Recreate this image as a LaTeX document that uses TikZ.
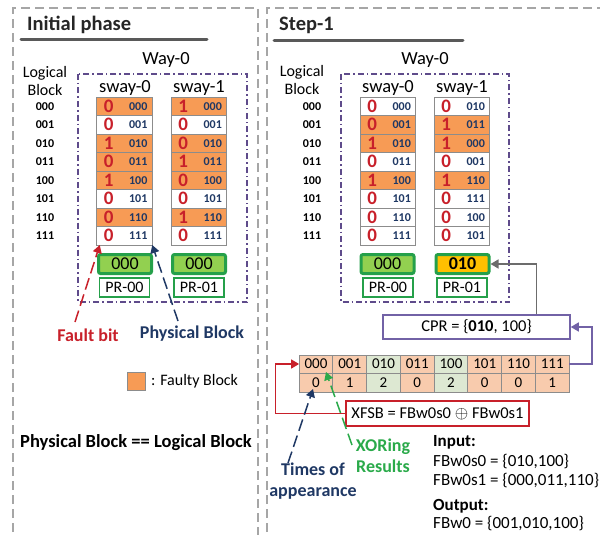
\documentclass[tikz,border=0pt]{standalone}
\usepackage{fontspec}
\setmainfont{Carlito}
\usetikzlibrary{arrows.meta,calc}
\definecolor{orng}{HTML}{F79B55}
\definecolor{redc}{HTML}{C8202A}
\definecolor{navy}{HTML}{1F3864}
\definecolor{grnB}{HTML}{25A04A}
\definecolor{grnF}{HTML}{92D050}
\definecolor{yel}{HTML}{FFC000}
\definecolor{purp}{HTML}{5F4B8B}
\definecolor{purl}{HTML}{7262A6}
\definecolor{pgray}{HTML}{A6A6A6}
\definecolor{ugray}{HTML}{595959}
\definecolor{peach}{HTML}{F8CBAD}
\definecolor{lgrn}{HTML}{DDE8D2}
\definecolor{tgray}{HTML}{8C8C8C}
\definecolor{xgrn}{HTML}{2AAA4A}
\newcommand\colcells[3]{\foreach \b/\a/\f [count=\i from 0] in {#3}{%
  \node[cell,fill=\f] (#1\i) at (#2,{106.25+18.5*\i}) {};
  \node[bitt] (#1b\i) at ([xshift=12pt]#1\i.center -| #1\i.west) {\b};
  \node[adrt] (#1a\i) at ([xshift=-14pt]#1\i.center -| #1\i.east) {\a};}}
\begin{document}
\begin{tikzpicture}[x=1pt,y=-1pt,
  panel/.style={draw=pgray,line width=1.5pt,dash pattern=on 9pt off 5pt},
  wayrect/.style={draw=purp,line width=1.5pt,dash pattern=on 6pt off 3pt on 1.5pt off 3pt},
  title/.style={font=\fontsize{20.5}{23}\selectfont\bfseries,text=black!85,anchor=west,inner sep=0},
  uline/.style={draw=ugray,line width=3pt,line cap=round},
  lbl/.style={font=\fontsize{18.5}{20}\selectfont,inner sep=0},
  logl/.style={font=\fontsize{16}{18}\selectfont,align=center,inner sep=0},
  rowl/.style={font=\fontsize{12}{14}\selectfont\bfseries,inner sep=0},
  cell/.style={draw=tgray,line width=0.8pt,minimum width=55.5pt,minimum height=18.5pt,inner sep=0,outer sep=0},
  bitt/.style={font=\fontsize{19}{20}\selectfont\bfseries,text=redc,inner sep=0},
  adrt/.style={font=\fontsize{12}{14}\selectfont\bfseries,text=navy,inner sep=0},
  gbox/.style={draw=grnB,line width=3pt,rounded corners=2pt,minimum width=53pt,minimum height=19pt,inner sep=0,font=\fontsize{18}{20}\selectfont},
  prbox/.style={draw=grnB,line width=1.5pt,fill=white,minimum width=50pt,minimum height=19pt,inner sep=0,font=\fontsize{16}{18}\selectfont},
  tcell/.style={draw=tgray,line width=0.8pt,minimum width=33.75pt,inner sep=0,outer sep=0,font=\fontsize{15}{17}\selectfont},
  tip/.style={-{Triangle[length=8pt,width=9pt]}},
  bold18/.style={font=\fontsize{18}{21}\selectfont\bfseries,inner sep=0,align=center},
  txt16/.style={font=\fontsize{16}{18}\selectfont,inner sep=0,anchor=west},
  txt17/.style={font=\fontsize{17}{19}\selectfont,inner sep=0,anchor=west}]
\useasboundingbox (0,0) rectangle (600,535);
\clip (0,0) rectangle (600,535);
% panels
\draw[panel] (13,560) -- (13,8) -- (258,8) -- (258,560);
\draw[panel] (267,560) -- (267,8) -- (620,8);
% titles
\node[title] (t1) at (27,25) {Initial phase};
\draw[uline] (21,40) -- (207,40);
\node[title] (t2) at (279,25) {Step-1};
\draw[uline] (274,41) -- (463,41);
% way rects
\draw[wayrect] (78,74) rectangle (247,302);
\draw[wayrect] (341,74) rectangle (509,302);
\node[lbl] (w1) at (166,60) {Way-0};
\node[lbl] (w2) at (425,60) {Way-0};
\node[lbl] (s10) at (125,88) {sway-0};
\node[lbl] (s11) at (199,88) {sway-1};
\node[lbl] (s20) at (388,88) {sway-0};
\node[lbl] (s21) at (462,88) {sway-1};
\node[logl] (lb1) at (45,81) {Logical\\Block};
\node[logl] (lb2) at (302,80) {Logical\\Block};
\foreach \a [count=\i from 0] in {000,001,010,011,100,101,110,111}{
  \node[rowl] (lr\i) at (45,{106.25+18.5*\i}) {\a};
  \node[rowl] (rr\i) at (312,{106.25+18.5*\i}) {\a};}
% columns
\colcells{La}{124.5}{0/000/orng,0/001/white,1/010/orng,0/011/orng,1/100/orng,0/101/white,0/110/orng,0/111/white}
\colcells{Lb}{199}{1/000/orng,0/001/white,0/010/orng,1/011/orng,0/100/orng,0/101/white,1/110/orng,0/111/white}
\colcells{Ra}{388}{0/000/white,0/001/orng,1/010/orng,0/011/white,1/100/orng,0/101/white,0/110/white,0/111/white}
\colcells{Rb}{462}{0/010/white,1/011/orng,1/000/orng,0/001/white,1/110/orng,0/111/white,0/100/white,0/101/white}
% green boxes
\node[gbox,fill=grnF] (Lg0) at (125,264) {000};
\node[gbox,fill=grnF] (Lg1) at (199,264) {000};
\node[gbox,fill=grnF] (Rg0) at (387.5,264) {000};
\node[gbox,fill=yel,font=\fontsize{18}{20}\selectfont\bfseries] (Rg1) at (462.5,264) {010};
\node[prbox] (Lp0) at (124.5,287.5) {PR-00};
\node[prbox] (Lp1) at (199,287.5) {PR-01};
\node[prbox] (Rp0) at (388,287.5) {PR-00};
\node[prbox] (Rp1) at (462,287.5) {PR-01};
% fault bit / physical block
\node[bold18,text=redc] (fb) at (88,335) {Fault bit};
\node[bold18,text=navy] (pb) at (192,334) {Physical Block};
\coordinate (fbs) at (75,322);
\coordinate (pbs) at (178,321);
\draw[redc,line width=1.5pt,dash pattern=on 12pt off 5pt,tip] (fbs) -- ([xshift=3pt]La7.south west);
\draw[navy,line width=1.5pt,dash pattern=on 12pt off 5pt,tip] (pbs) -- (La7.south east);
% legend
\node[draw=tgray,fill=orng,minimum width=18pt,minimum height=18pt,inner sep=0] (leg) at (136,381) {};
\node[txt16] (legt) at (151,381) {: Faulty Block};
\node[bold18,font=\fontsize{18.5}{21}\selectfont\bfseries] (pbl) at (136,443) {Physical Block == Logical Block};
% table
\foreach \h/\c/\f [count=\i from 0] in {000/0/peach,001/1/peach,010/2/lgrn,011/0/peach,100/2/lgrn,101/0/peach,110/0/peach,111/1/peach}{
  \node[tcell,fill=\f,minimum height=18pt] (t\i) at ({316+33.75*\i},364) {\h};
  \node[tcell,fill=\f,minimum height=19pt] (c\i) at ({316+33.75*\i},382.5) {\c};}
% CPR
\node[draw=purl,line width=1.5pt,fill=white,minimum width=187pt,minimum height=24pt,inner sep=0,font=\fontsize{16.5}{18}\selectfont] (cpr) at (476.5,327) {CPR = \{\textbf{010}, 100\}};
\draw[gray!85!black,line width=1.5pt,tip] ([xshift=154pt]cpr.north west) |- (Rg1.east);
\draw[purl,line width=1.5pt,tip] (t7.east) -- ++(23,0) |- (cpr.east);
% XFSB
\node[draw=redc,line width=1.5pt,fill=white,minimum width=183pt,minimum height=25pt,inner sep=0,font=\fontsize{16.5}{18}\selectfont] (xf) at (437.5,413.5) {XFSB = FBw0s0 $\oplus$ FBw0s1};
\draw[redc,line width=1.5pt,tip] (xf.west) -- ++(-70,0) |- (t0.west);
% annotations
\node[bold18,text=navy] (toa) at (313,481) {Times of\\appearance};
\node[bold18,text=xgrn] (xr) at (383,456) {XORing\\Results};
\coordinate (toas) at (288,463);
\coordinate (toae) at (313,389);
\coordinate (xrs) at (352,445);
\coordinate (xre) at (326,372);
\draw[navy,line width=1.5pt,dash pattern=on 12pt off 5pt,tip] (toas) -- (toae);
\draw[xgrn,line width=1.5pt,dash pattern=on 12pt off 5pt,tip] (xrs) -- (xre);
\node[txt17,font=\fontsize{17}{19}\selectfont\bfseries] (in) at (433,442) {Input:};
\node[txt17] (in1) at (433,462) {FBw0s0 = \{010,100\}};
\node[txt17] (in2) at (433,481) {FBw0s1 = \{000,011,110\}};
\node[txt17,font=\fontsize{17}{19}\selectfont\bfseries] (out) at (433,506) {Output:};
\node[txt17] (out1) at (433,524) {FBw0 = \{001,010,100\}};
\end{tikzpicture}
\end{document}
